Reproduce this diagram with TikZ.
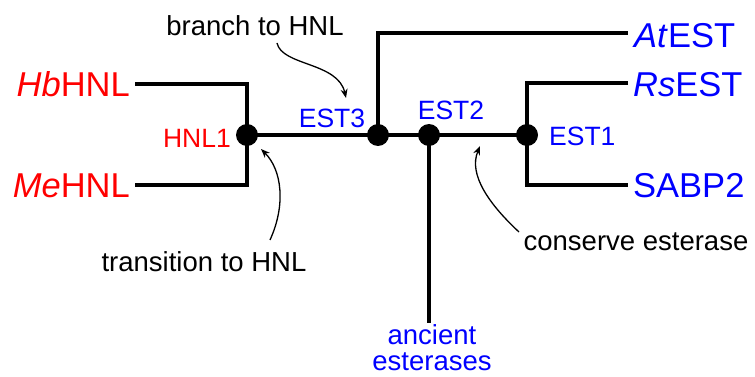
\documentclass[tikz,border=0pt]{standalone}
\usepackage{fontspec}
\setmainfont{Liberation Sans}
\usetikzlibrary{arrows.meta}
\definecolor{hnlred}{RGB}{255,0,0}
\definecolor{estblue}{RGB}{0,0,255}
\begin{document}
\begin{tikzpicture}[x=1pt,y=-1pt,
  tree/.style={line width=4.8pt},
  dot/.style={circle,fill=black,minimum size=22pt,inner sep=0pt},
  big/.style={font=\fontsize{34.5}{40}\selectfont,inner sep=0pt},
  small/.style={font=\fontsize{26.5}{30}\selectfont,inner sep=0pt},
  note/.style={font=\fontsize{27.5}{26}\selectfont,inner sep=0pt},
  ann/.style={line width=1.3pt,-{Stealth[length=9pt,width=7pt]}}
]
\useasboundingbox (0,0) rectangle (755,377);
% tree coordinates
\coordinate (phnl1) at (247,135);
\coordinate (pest3) at (378,135);
\coordinate (pest2) at (429,135);
\coordinate (pest1) at (527,135);
\coordinate (hbc) at (247,84);
\coordinate (mec) at (247,185);
\coordinate (atc) at (378,33);
\coordinate (rsc) at (527,83);
\coordinate (sac) at (527,185);
\coordinate (hbend) at (135,84);
\coordinate (meend) at (135,185);
\coordinate (atend) at (628,33);
\coordinate (rsend) at (628,83);
\coordinate (saend) at (628,185);
\coordinate (ancend) at (429,323);
% branches
\draw[tree] (hbend) -- (hbc) -- (mec) -- (meend);
\draw[tree] (phnl1) -- (pest1);
\draw[tree] (pest3) -- (atc) -- (atend);
\draw[tree] (rsend) -- (rsc) -- (sac) -- (saend);
\draw[tree] (pest2) -- (ancend);
% internal nodes
\node[dot] (hnl1) at (phnl1) {};
\node[dot] (est3) at (pest3) {};
\node[dot] (est2) at (pest2) {};
\node[dot] (est1) at (pest1) {};
% leaf labels
\node[big,text=hnlred,anchor=base east] (hb) at (130,97) {\textit{Hb}HNL};
\node[big,text=hnlred,anchor=base east] (me) at (130,197) {\textit{Me}HNL};
\node[big,text=estblue,anchor=base west] (at) at (634,48) {\textit{At}EST};
\node[big,text=estblue,anchor=base west] (rs) at (633,97) {\textit{Rs}EST};
\node[big,text=estblue,anchor=base west] (sa) at (633,197) {SABP2};
% internal labels
\node[small,text=hnlred,anchor=base east] (lhnl1) at (231,147) {HNL1};
\node[small,text=estblue,anchor=base] (lest3) at (332,128) {EST3};
\node[small,text=estblue,anchor=base] (lest2) at (451,120) {EST2};
\node[small,text=estblue,anchor=base west] (lest1) at (549,146) {EST1};
\node[note,text=estblue,align=center] (anc) at (432,348) {ancient\\esterases};
% annotations
\node[note,anchor=base] (branch) at (255,36) {branch to HNL};
\node[note,anchor=base] (trans) at (204,271) {transition to HNL};
\node[note,anchor=base] (cons) at (636,250) {conserve esterase};
\coordinate (brtail) at (277,43);
\coordinate (brhead) at (346,98);
\coordinate (trtail) at (270,240);
\coordinate (trhead) at (261,149);
\coordinate (cotail) at (519,232);
\coordinate (cohead) at (480,146);
\draw[ann] (brtail) .. controls (282,66) and (338,62) .. (brhead);
\draw[ann] (trtail) .. controls (286,205) and (282,170) .. (trhead);
\draw[ann] (cotail) .. controls (490,205) and (468,175) .. (cohead);
\end{tikzpicture}
\end{document}
